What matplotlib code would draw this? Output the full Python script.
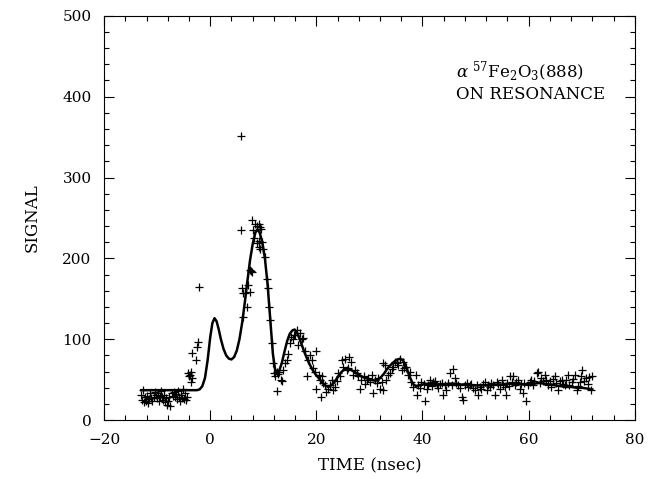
import matplotlib
matplotlib.use("Agg")
import matplotlib.pyplot as plt
from matplotlib.ticker import MultipleLocator

plt.rcParams["font.family"] = ["DejaVu Serif"]
plt.rcParams["mathtext.fontset"] = "dejavuserif"
plt.rcParams["mathtext.default"] = "regular"

# measured counts (+ markers)
t_data = [-13.0, -12.8, -12.7, -12.5, -12.3, -12.1, -11.9, -11.7, -11.5, -11.3,
          -11.1, -10.9, -10.7, -10.5, -10.3, -10.1, -9.9, -9.7, -9.5, -9.3,
          -9.1, -8.9, -8.7, -8.5, -8.3, -8.1, -7.9, -7.7, -7.5, -7.3,
          -7.1, -6.9, -6.7, -6.5, -6.3, -6.1, -5.9, -5.7, -5.5, -5.3,
          -5.1, -4.9, -4.7, -4.5, -4.3,
          -4.2, -4.0, -3.8, -3.7, -3.6, -3.4, -3.5, -2.7, -2.5, -2.4, -2.2,
          5.7, 5.7, 5.9, 6.2, 6.2, 6.6, 6.9, 7.2, 7.5, 7.5, 7.6, 7.8, 7.9,
          8.1, 8.3, 8.5, 8.8, 8.9, 9.1, 9.1, 9.2, 9.4, 9.4, 9.6, 9.8, 10.0,
          10.3, 10.6, 10.9, 11.1, 11.3, 11.6, 11.8, 12.0, 12.2, 12.5, 12.6,
          12.8, 13.0, 13.3, 13.6,
          13.8, 14.1, 14.4, 14.7, 15.0, 15.3, 15.5, 15.7, 16.0, 16.3, 16.6,
          16.9, 17.2, 17.5, 17.9, 18.2, 18.5, 18.8, 19.1, 19.4, 19.7, 20.0,
          20.0, 20.4, 20.7, 20.9, 21.0, 21.3, 21.6, 21.9, 22.2, 22.5, 22.9,
          23.2, 23.5, 23.8, 24.1, 24.4, 24.8, 25.1, 25.4, 25.7, 26.0, 26.2,
          26.6, 26.9, 27.3, 27.6, 27.9, 28.3, 28.5, 28.9, 29.2, 29.5, 29.8,
          30.1, 30.4, 30.6, 31.0, 31.4, 31.7, 32.0, 32.3, 32.5, 32.6, 32.9,
          33.2, 33.5, 33.9, 34.2, 34.5, 34.8, 35.1, 35.4, 35.7, 36.1, 36.4,
          36.6, 36.9, 37.3, 37.6, 37.9, 38.3, 38.8, 38.9, 39.2, 39.5, 39.8,
          40.2, 40.5, 40.8, 41.1, 41.4, 41.7, 42.0, 42.4, 42.7, 43.0, 43.3,
          43.6, 43.9, 44.2, 44.5, 44.8, 45.2, 45.5, 45.7, 46.1, 46.4, 46.7,
          47.0, 47.4, 47.7, 48.0, 48.3, 48.6, 48.9, 49.2, 49.5, 49.9, 50.2,
          50.5, 50.8, 51.1, 51.4, 51.7, 52.1, 52.4, 52.7, 53.0, 53.3, 53.6,
          54.0, 54.3, 54.6, 54.9, 55.2, 55.5, 55.7, 56.0, 56.3, 56.5, 56.8,
          57.1, 57.4, 57.7, 58.0, 58.3, 58.6, 58.9, 59.2, 59.5, 59.8, 60.2,
          60.5, 60.8, 61.1, 61.5, 61.8, 62.1, 62.4, 62.7, 63.0, 63.3, 63.7,
          64.0, 64.3, 64.6, 64.9, 65.2, 65.6, 65.9, 66.2, 66.5, 66.8, 67.1,
          67.4, 67.7, 68.1, 68.4, 68.7, 69.1, 69.4, 69.6, 69.9, 70.1, 70.4,
          70.8, 71.1, 71.4, 71.7, 71.9]
signal_data = [31, 25, 37, 22, 28, 24, 30, 21, 26, 33,
               27, 23, 29, 35, 31, 27, 33, 24, 30, 36,
               28, 25, 31, 22, 27, 19, 24, 29, 17, 33,
               30, 35, 28, 32, 26, 36, 29, 24, 31, 27,
               38, 26, 33, 25, 29,
               58, 55, 56, 60, 47, 52, 83, 74, 91, 97, 164,
               351, 235, 163, 157, 128, 157, 140, 167, 158, 186, 185, 183, 247,
               235, 225, 242, 219, 240, 243, 221, 214, 239, 212, 236, 220, 212,
               202, 175, 163, 140, 124, 95, 70, 58, 54, 60, 36,
               57, 59, 50, 48,
               62, 70, 74, 82, 95, 103, 100, 105, 105, 111, 93,
               108, 100, 101, 85, 54, 74, 80, 74, 64, 60, 86,
               39, 56, 50, 28, 54, 46, 43, 35, 39, 44, 50,
               37, 41, 48, 58, 55, 74, 66, 76, 62, 64, 78,
               72, 56, 62, 58, 54, 39, 50, 55, 45, 50, 52,
               47, 56, 34, 50, 46, 52, 38, 47, 37, 70, 68,
               50, 56, 58, 63, 66, 72, 70, 68, 76, 62, 72,
               65, 66, 56, 60, 47, 41, 56, 31, 44, 40, 47,
               45, 24, 39, 44, 50, 42, 47, 48, 43, 40, 45,
               46, 31, 44, 37, 46, 58, 44, 63, 52, 46, 43,
               40, 29, 25, 43, 46, 41, 44, 45, 40, 37, 44,
               31, 41, 38, 45, 47, 37, 44, 41, 46, 43, 31,
               47, 45, 39, 50, 44, 41, 31, 46, 42, 54, 47,
               54, 44, 47, 49, 39, 45, 33, 46, 24, 44, 47,
               50, 43, 48, 58, 60, 46, 52, 48, 56, 50, 43,
               48, 41, 51, 54, 46, 37, 48, 50, 45, 43, 49,
               56, 44, 47, 51, 56, 37, 42, 47, 55, 62, 48,
               52, 45, 53, 37, 55]

# fitted curve
t_fit = [-13.0, -3.0, -2.5, -2.0, -1.5, -1.0, -0.5, 0.0, 0.4, 0.8, 1.2, 1.6,
         2.0, 2.5, 3.0, 3.5, 4.0, 4.5, 5.0, 5.5, 6.0, 6.5, 7.0, 7.5, 8.0,
         8.5, 8.9, 9.3, 9.8, 10.3, 10.8, 11.3, 11.8, 12.2, 12.6, 13.0, 13.5,
         14.0, 14.5, 15.0, 15.5, 15.9, 16.3, 16.8, 17.3, 17.8, 18.3, 18.8,
         19.3, 19.8, 20.3, 20.8, 21.3, 21.8, 22.3, 22.8, 23.3, 23.8, 24.3,
         24.8, 25.3, 25.8, 26.3, 26.8, 27.3, 27.8, 28.3, 28.8, 29.3, 29.8,
         30.3, 30.8, 31.3, 31.8, 32.3, 32.8, 33.3, 33.8, 34.3, 34.8, 35.3,
         35.8, 36.3, 36.8, 37.3, 37.8, 38.3, 38.8, 39.3, 40, 41, 42, 43, 44,
         45, 46, 47, 48, 49, 50, 51, 52, 53, 54, 55, 56, 57, 58, 59, 60, 61,
         62, 63, 64, 65, 66, 67, 68, 69, 70, 71, 72]
signal_fit = [37, 37, 37, 38, 42, 52, 74, 103, 120, 126, 122, 112,
              100, 88, 80, 76, 75, 78, 86, 100, 120, 145, 172, 198, 218,
              232, 236, 232, 220, 200, 168, 125, 82, 63, 58, 61, 71,
              85, 98, 107, 111, 112, 109, 101, 92, 83, 75, 68,
              62, 57, 53, 49, 45, 42, 41, 43, 46, 51, 56,
              60, 63, 64, 63, 61, 59, 57, 55, 53, 52, 51,
              50, 49, 49, 51, 54, 58, 63, 67, 70, 73, 75,
              76, 74, 68, 59, 50, 44, 42, 43, 44, 45, 45, 44, 44,
              45, 45, 44, 44, 43, 43, 43, 43, 43, 44, 44, 45, 45, 45, 44, 44, 45,
              46, 45, 44, 43, 42, 41, 41, 40, 40, 39, 38]

fig = plt.figure(figsize=(6.51, 4.79), dpi=100)
ax = fig.add_axes([0.16, 0.123, 0.815, 0.844])

ax.plot(t_fit, signal_fit, color="black", lw=1.8)
ax.plot(t_data, signal_data, "+", color="black", ms=6, mew=0.9)

ax.set_xlim(-20, 80)
ax.set_ylim(0, 500)
ax.xaxis.set_major_locator(MultipleLocator(20))
ax.xaxis.set_minor_locator(MultipleLocator(4))
ax.yaxis.set_major_locator(MultipleLocator(100))
ax.yaxis.set_minor_locator(MultipleLocator(20))
ax.tick_params(which="both", direction="in", top=True, right=True,
               labelsize=11, width=0.8)
ax.tick_params(which="major", length=7, pad=9)
ax.tick_params(which="minor", length=3.5)
for s in ax.spines.values():
    s.set_linewidth(0.8)

ax.set_xlabel("TIME (nsec)", fontsize=12, labelpad=8)
ax.set_ylabel("SIGNAL", fontsize=12, labelpad=16)

ax.text(46.4, 424, r"$\mathit{\alpha}$ $^{57}$Fe$_2$O$_3$(888)", fontsize=12,
        ha="left", va="baseline")
ax.text(46.4, 397, "ON RESONANCE", fontsize=12, ha="left", va="baseline")

fig.savefig("out.png", dpi=100)
